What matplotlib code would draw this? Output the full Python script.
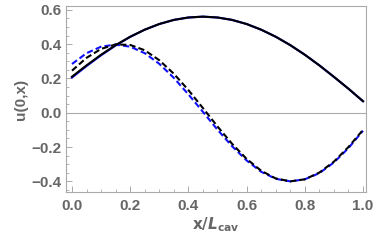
import matplotlib
matplotlib.use("Agg")
import matplotlib.pyplot as plt
from matplotlib.ticker import MultipleLocator

# values
x = [0.00, 0.05, 0.10, 0.15, 0.20, 0.25, 0.30, 0.35, 0.40, 0.45, 0.50,
     0.55, 0.60, 0.65, 0.70, 0.75, 0.80, 0.85, 0.90, 0.95, 1.00]
black_solid = [0.210, 0.276, 0.338, 0.394, 0.443, 0.484, 0.517, 0.541, 0.555, 0.560, 0.555,
               0.541, 0.517, 0.484, 0.443, 0.394, 0.338, 0.276, 0.209, 0.140, 0.067]
blue_solid = [0.205, 0.272, 0.335, 0.392, 0.442, 0.484, 0.517, 0.541, 0.555, 0.560, 0.555,
              0.541, 0.517, 0.484, 0.443, 0.394, 0.338, 0.276, 0.209, 0.140, 0.067]
black_dash = [0.245, 0.320, 0.372, 0.398, 0.395, 0.364, 0.306, 0.227, 0.132, 0.027, -0.080,
              -0.181, -0.269, -0.338, -0.383, -0.400, -0.388, -0.349, -0.285, -0.200, -0.100]
blue_dash = [0.284, 0.347, 0.385, 0.397, 0.385, 0.347, 0.285, 0.203, 0.107, 0.005, -0.099,
             -0.195, -0.278, -0.344, -0.385, -0.400, -0.388, -0.352, -0.290, -0.206, -0.105]

gray = '#666666'
plt.rcParams['font.family'] = ['Liberation Sans', 'DejaVu Sans']

fig = plt.figure(figsize=(3.74, 2.43), dpi=100)
ax = fig.add_axes([66/374, 1-192/243, 300/374, 186/243])

ax.axhline(0, color='#aaaaaa', lw=0.8, zorder=1)
ax.plot(x, blue_solid, color='#1010ff', lw=1.5)
ax.plot(x, blue_dash, color='#1010ff', lw=1.5, dashes=(3, 1.5))
ax.plot(x, black_solid, color='black', lw=1.5)
ax.plot(x, black_dash, color='black', lw=1.5, dashes=(3, 1.5))

ax.set_xlim(-0.0206, 1.0103)
ax.set_ylim(-0.462, 0.622)
ax.xaxis.set_major_locator(MultipleLocator(0.2))
ax.xaxis.set_minor_locator(MultipleLocator(0.05))
ax.yaxis.set_major_locator(MultipleLocator(0.2))
ax.yaxis.set_minor_locator(MultipleLocator(0.05))
ax.xaxis.set_major_formatter(plt.FuncFormatter(lambda v, p: f"{v:.1f}".replace('-', '\u2212')))
ax.yaxis.set_major_formatter(plt.FuncFormatter(lambda v, p: f"{v:.1f}".replace('-', '\u2212') if abs(v) > 1e-9 else "0.0"))

for s in ax.spines.values():
    s.set_color('#aaaaaa')
    s.set_linewidth(0.8)
ax.tick_params(which='both', direction='in', color='#aaaaaa', top=False, right=False)
ax.tick_params(which='major', length=4, width=0.7, labelsize=11, labelcolor=gray)
ax.tick_params(which='minor', length=2, width=0.6)
ax.tick_params(axis='x', which='major', pad=5)
ax.tick_params(axis='y', which='major', pad=3)
for lab in ax.get_xticklabels() + ax.get_yticklabels():
    lab.set_fontweight('bold')

ax.set_ylabel('u(0,x)', fontsize=11, fontweight='bold', color=gray, labelpad=3)
ax.set_xlabel(r'$\mathbf{x/}\boldsymbol{L}_{\mathbf{cav}}$', fontsize=11, color=gray, labelpad=2)

fig.savefig('out.png', dpi=100)
